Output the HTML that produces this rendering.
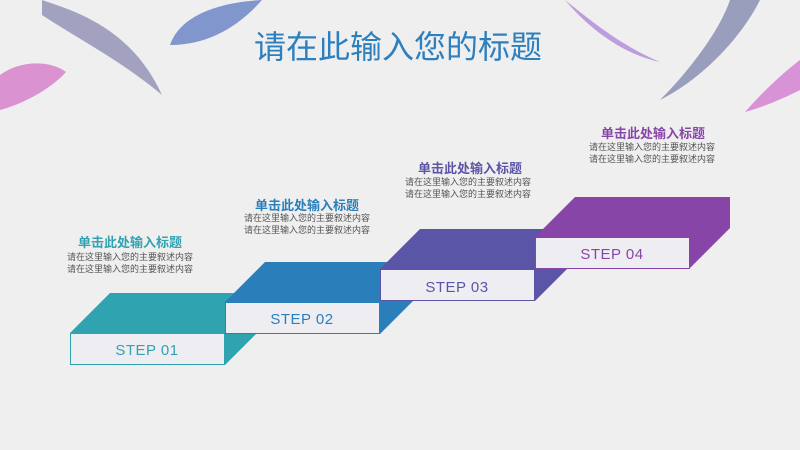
<!DOCTYPE html>
<html><head><meta charset="utf-8"><style>
body{margin:0;width:800px;height:450px;overflow:hidden;background:#efefef;font-family:"Liberation Sans","Noto Sans CJK SC",sans-serif;position:relative}
.t{position:absolute;text-align:center;font-weight:bold;font-size:13px;white-space:nowrap}
.d{position:absolute;text-align:center;font-size:9px;line-height:12px;color:#555;white-space:nowrap}
</style></head><body>
<svg width="800" height="450" style="position:absolute;left:0;top:0">
<path d="M42,0 C70,10 130,25 162,95 C120,60 80,40 42,15 Z" fill="#8f8fb4" opacity="0.8"/>
<path d="M170,45 C180,15 220,2 262,0 C240,25 210,45 170,45 Z" fill="#6f86c8" opacity="0.85"/>
<path d="M0,75 C20,60 50,60 66,72 C50,90 20,105 0,110 Z" fill="#d57ac8" opacity="0.8"/>
<path d="M565,0 C590,20 620,45 660,62 C625,55 590,30 565,0 Z" fill="#b08ad8" opacity="0.8"/>
<path d="M760,0 C740,40 700,80 660,100 C690,70 720,30 730,0 Z" fill="#8a8fb4" opacity="0.85"/>
<path d="M800,60 C780,75 760,95 745,112 C770,105 790,95 800,90 Z" fill="#d27ad0" opacity="0.8"/>
<text x="398" y="58" text-anchor="middle" font-family="Liberation Sans,Noto Sans CJK SC,sans-serif" font-size="32" fill="#2e7fbd">请在此输入您的标题</text>
<!-- step 1 -->
<polygon points="70,333 110,293 265,293 265,325 225,365 225,333" fill="#30a3b0"/>
<rect x="70.5" y="333.5" width="154" height="31" fill="#eeeef2" stroke="#30a3b0"/>
<!-- step 2 -->
<polygon points="225,302 265,262 420,262 420,294 380,334 380,302" fill="#2a7fba"/>
<rect x="225.5" y="302.5" width="154" height="31" fill="#eeeef2" stroke="#2a7fba"/>
<!-- step 3 -->
<polygon points="380,269 420,229 575,229 575,261 535,301 535,269" fill="#5a55a6"/>
<rect x="380.5" y="269.5" width="154" height="31" fill="#eeeef2" stroke="#5a55a6"/>
<!-- step 4 -->
<polygon points="535,237 575,197 730,197 730,228 690,268 690,237" fill="#8845a8"/>
<rect x="535.5" y="237.5" width="154" height="31" fill="#eeeef2" stroke="#8845a8"/>
<g font-family="Liberation Sans,sans-serif" font-size="15" text-anchor="middle" letter-spacing="0.5">
<text x="147" y="355" fill="#30a3b0">STEP  01</text>
<text x="302" y="324" fill="#2a7fba">STEP  02</text>
<text x="457" y="292" fill="#5a55a6">STEP  03</text>
<text x="612" y="259" fill="#8845a8">STEP  04</text>
</g>
</svg>
<div class="t" style="left:70px;top:232px;width:120px;color:#30a3b0">单击此处输入标题</div>
<div class="d" style="left:50px;top:251px;width:160px">请在这里输入您的主要叙述内容<br>请在这里输入您的主要叙述内容</div>
<div class="t" style="left:247px;top:195px;width:120px;color:#2a7fba">单击此处输入标题</div>
<div class="d" style="left:227px;top:212px;width:160px">请在这里输入您的主要叙述内容<br>请在这里输入您的主要叙述内容</div>
<div class="t" style="left:410px;top:158px;width:120px;color:#5a55a6">单击此处输入标题</div>
<div class="d" style="left:388px;top:176px;width:160px">请在这里输入您的主要叙述内容<br>请在这里输入您的主要叙述内容</div>
<div class="t" style="left:593px;top:123px;width:120px;color:#8845a8">单击此处输入标题</div>
<div class="d" style="left:572px;top:141px;width:160px">请在这里输入您的主要叙述内容<br>请在这里输入您的主要叙述内容</div>
</body></html>
